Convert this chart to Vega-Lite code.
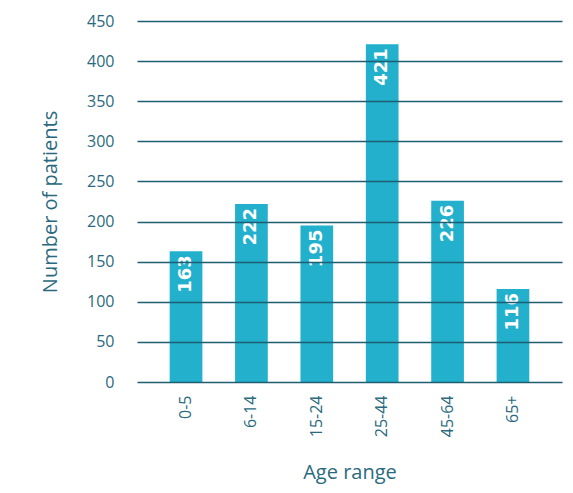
{
  "$schema": "https://vega.github.io/schema/vega-lite/v6.json",
  "width": 425,
  "height": 361,
  "autosize": {"type": "none"},
  "padding": {"left": 137, "top": 21, "right": 11, "bottom": 111},
  "background": "white",
  "config": {
    "view": {"stroke": null},
    "font": "Open Sans"
  },
  "data": {
    "values": [
      {"age": "0-5", "patients": 163},
      {"age": "6-14", "patients": 222},
      {"age": "15-24", "patients": 195},
      {"age": "25-44", "patients": 421},
      {"age": "45-64", "patients": 226},
      {"age": "65+", "patients": 116}
    ]
  },
  "encoding": {
    "x": {
      "field": "age",
      "type": "nominal",
      "sort": null,
      "scale": {"paddingInner": 0.5, "paddingOuter": 0.5},
      "axis": {
        "title": "Age range",
        "titleFont": "Open Sans",
        "titleFontSize": 20,
        "titleFontWeight": "normal",
        "titleColor": "#2b6a7e",
        "titlePadding": 26,
        "labelAngle": -90,
        "labelFont": "Open Sans",
        "labelFontSize": 16,
        "labelColor": "#2b6a7e",
        "labelPadding": 13,
        "ticks": false,
        "domain": false
      }
    },
    "y": {
      "field": "patients",
      "type": "quantitative",
      "scale": {"domain": [0, 450], "nice": false},
      "axis": {
        "title": "Number of patients",
        "titleFont": "Open Sans",
        "titleFontSize": 20,
        "titleFontWeight": "normal",
        "titleColor": "#2b6a7e",
        "titlePadding": 26,
        "values": [0, 50, 100, 150, 200, 250, 300, 350, 400, 450],
        "labelFont": "Open Sans",
        "labelFontSize": 16,
        "labelColor": "#2b6a7e",
        "labelPadding": 23,
        "ticks": false,
        "domain": false,
        "grid": true,
        "gridColor": "#1f5d71",
        "gridWidth": 1.4,
        "gridOpacity": 1,
        "zindex": 1
      }
    }
  },
  "layer": [
    {
      "mark": {"type": "bar", "color": "#22b0cc"}
    },
    {
      "mark": {
        "type": "text",
        "angle": 270,
        "align": "right",
        "baseline": "middle",
        "dx": -4,
        "font": "DejaVu Sans",
        "fontWeight": "bold",
        "fontSize": 18,
        "color": "white"
      },
      "encoding": {
        "text": {"field": "patients", "type": "quantitative"}
      }
    }
  ]
}
